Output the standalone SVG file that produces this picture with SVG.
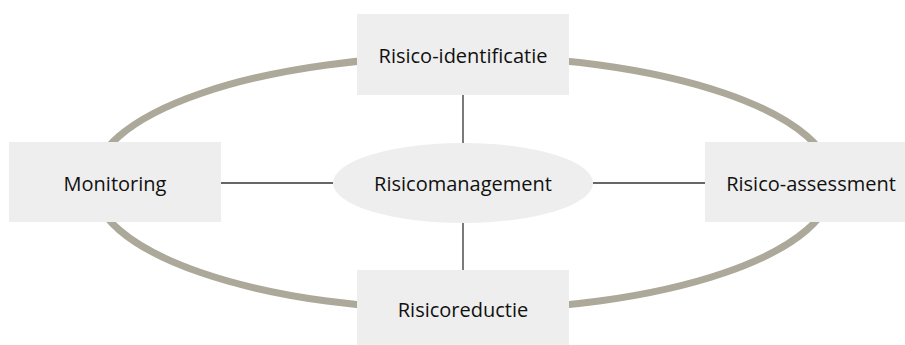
<svg xmlns="http://www.w3.org/2000/svg" width="905" height="345" viewBox="0 0 905 345">
<style>
.box{fill:#eeeeee;}
.lbl{font-family:"Open Sans","Liberation Sans",sans-serif;font-size:20px;fill:#111111;text-anchor:middle;}
.con{stroke:#333333;stroke-width:1.3;fill:none;}
</style>
<rect width="905" height="345" fill="#ffffff"/>
<ellipse id="cycle" cx="463" cy="183" rx="370" ry="127" fill="none" stroke="#aca99a" stroke-width="7"/>
<g id="connectors">
<line class="con" x1="463" y1="95" x2="463" y2="143"/>
<line class="con" x1="463" y1="222" x2="463" y2="270"/>
<line class="con" x1="221" y1="183" x2="333" y2="183"/>
<line class="con" x1="593" y1="183" x2="705" y2="183"/>
</g>
<g id="identificatie">
<rect class="box" x="357" y="14" width="212" height="81"/>
<text class="lbl" x="463" y="63">Risico-identificatie</text>
</g>
<g id="monitoring">
<rect class="box" x="9" y="142" width="212" height="80"/>
<text class="lbl" x="115" y="191">Monitoring</text>
</g>
<g id="assessment">
<rect class="box" x="705" y="142" width="212" height="80"/>
<text class="lbl" x="811" y="191">Risico-assessment</text>
</g>
<g id="reductie">
<rect class="box" x="357" y="270" width="212" height="80"/>
<text class="lbl" x="463" y="317">Risicoreductie</text>
</g>
<g id="management">
<ellipse class="box" cx="463" cy="183" rx="130" ry="40"/>
<text class="lbl" x="463" y="191">Risicomanagement</text>
</g>
</svg>
